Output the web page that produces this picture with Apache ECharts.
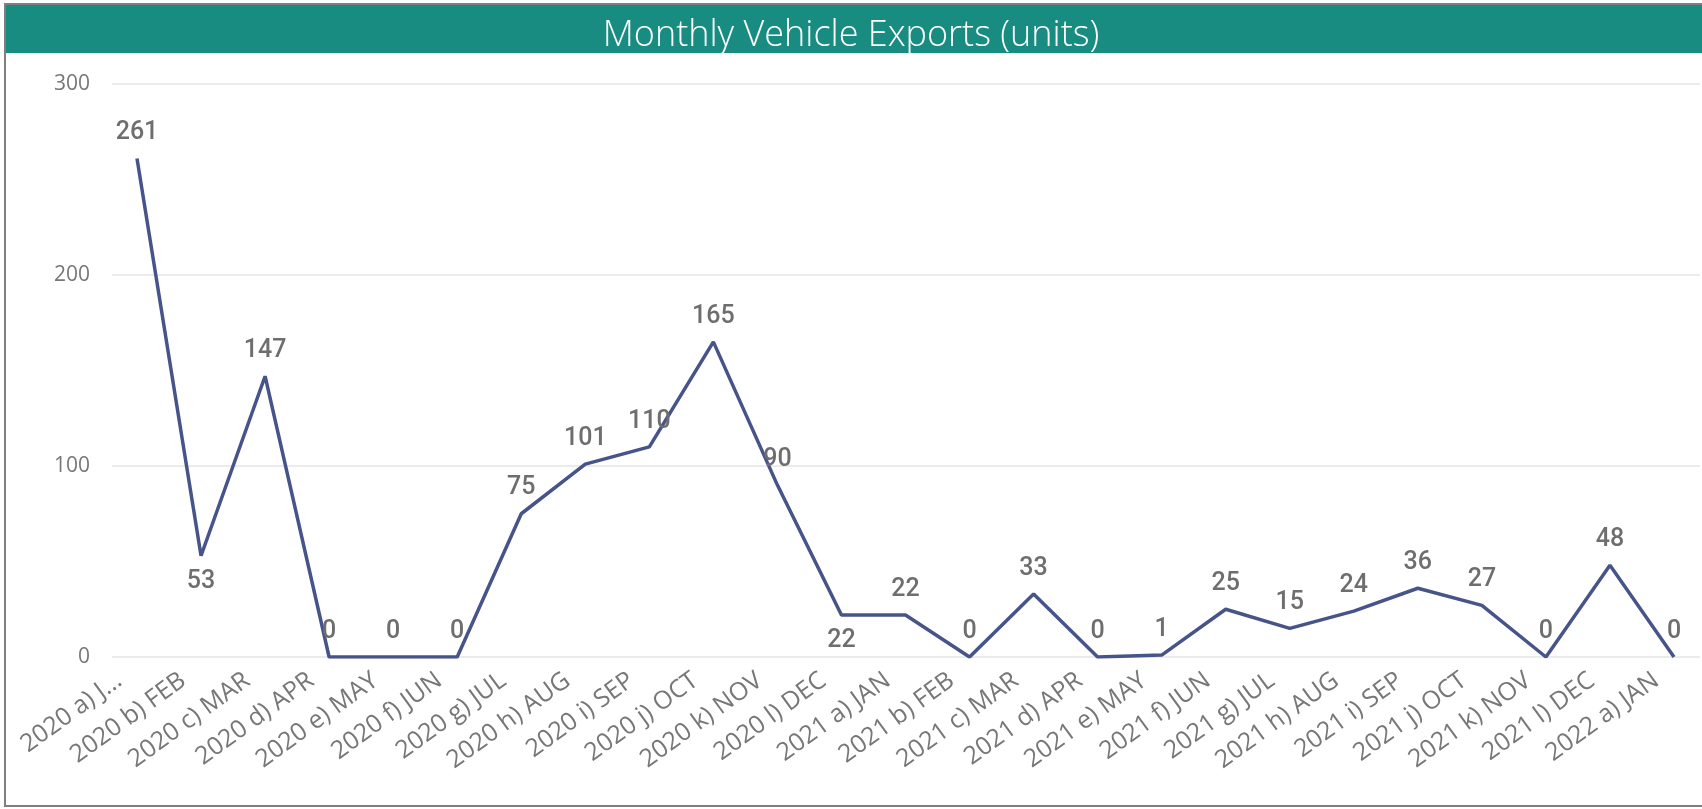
<!DOCTYPE html>
<html>
<head>
<meta charset="utf-8">
<title>Monthly Vehicle Exports</title>
<script src="https://cdn.jsdelivr.net/npm/echarts@6/dist/echarts.min.js"></script>
<style>
	html, body { margin: 0; padding: 0; background: #fff; }
	#exportsChart { width: 1702px; height: 809px; }
</style>
</head>
<body>
<div id="exportsChart"></div>
<script>
var months = [
	'2020 a) JAN', '2020 b) FEB', '2020 c) MAR', '2020 d) APR', '2020 e) MAY', '2020 f) JUN',
	'2020 g) JUL', '2020 h) AUG', '2020 i) SEP', '2020 j) OCT', '2020 k) NOV', '2020 l) DEC',
	'2021 a) JAN', '2021 b) FEB', '2021 c) MAR', '2021 d) APR', '2021 e) MAY', '2021 f) JUN',
	'2021 g) JUL', '2021 h) AUG', '2021 i) SEP', '2021 j) OCT', '2021 k) NOV', '2021 l) DEC',
	'2022 a) JAN'
];
var exportUnits = [261, 53, 147, 0, 0, 0, 75, 101, 110, 165, 90, 22, 22, 0, 33, 0, 1, 25, 15, 24, 36, 27, 0, 48, 0];
var yTicks = [0, 100, 200, 300];

// points whose value label sits under the line
var labelsBelow = [1, 11];

function buildPoints() {
	return exportUnits.map(function(v, i) {
		var p = { value: v };
		if (labelsBelow.indexOf(i) >= 0) {
			p.label = { position: 'bottom' };
		}
		return p;
	});
}

function initExportsChart() {
	var chart = echarts.init(document.getElementById('exportsChart'));
	var yMin = yTicks[0], yMax = yTicks[yTicks.length - 1];
	var yStep = yTicks[1] - yTicks[0];
	var option = {
		animation: false,
		title: {
			text: 'Monthly Vehicle Exports (units)',
			left: 'center',
			top: 13,
			textStyle: {
				color: '#ffffff',
				fontFamily: 'Open Sans',
				fontWeight: 300,
				fontSize: 36
			}
		},
		graphic: [{
			type: 'rect',
			z: -1,
			shape: { x: 5, y: 4, width: 1710, height: 802 },
			style: { fill: 'none', stroke: '#7f7f7f', lineWidth: 2 }
		}, {
			type: 'rect',
			z: 0,
			shape: { x: 6, y: 5, width: 1700, height: 48 },
			style: { fill: '#188c80' }
		}],
		grid: [
			{ left: 137, right: 28, top: 84, bottom: 152 },
			{ left: 112, right: 2, top: 84, bottom: 152 }
		],
		xAxis: [{
			type: 'category',
			gridIndex: 0,
			data: months,
			boundaryGap: false,
			axisLine: { show: false },
			axisTick: { show: false },
			axisLabel: {
				interval: 0,
				rotate: 36,
				margin: 8,
				padding: [0, 22, 0, 0],
				color: '#777777',
				fontFamily: 'Open Sans',
				fontSize: 25,
				formatter: function(v, i) {
					return i === 0 ? v.slice(0, 9) + '...' : v;
				}
			}
		}, {
			type: 'category',
			gridIndex: 1,
			data: months,
			show: false
		}],
		yAxis: [{
			type: 'value',
			gridIndex: 0,
			min: yMin,
			max: yMax,
			interval: yStep,
			show: false,
			splitLine: { show: false }
		}, {
			type: 'value',
			gridIndex: 1,
			min: yMin,
			max: yMax,
			interval: yStep,
			axisLine: { show: false },
			axisTick: { show: false },
			axisLabel: {
				margin: 22,
				color: '#777777',
				fontFamily: 'Open Sans',
				fontSize: 21
			},
			splitLine: { lineStyle: { color: '#ebebeb', width: 2 } }
		}],
		series: [{
			name: 'Exports',
			type: 'line',
			xAxisIndex: 0,
			yAxisIndex: 0,
			data: buildPoints(),
			symbol: 'circle',
			symbolSize: 0.1,
			showSymbol: true,
			lineStyle: { color: '#46548a', width: 3.5 },
			itemStyle: { color: '#46548a' },
			label: {
				show: true,
				position: 'top',
				distance: 13,
				opacity: 1,
				color: '#6e6e6e',
				fontFamily: 'Roboto',
				fontWeight: 500,
				fontSize: 25
			},
			labelLayout: { hideOverlap: false }
		}]
	};
	chart.setOption(option);
}

initExportsChart();
</script>
</body>
</html>
